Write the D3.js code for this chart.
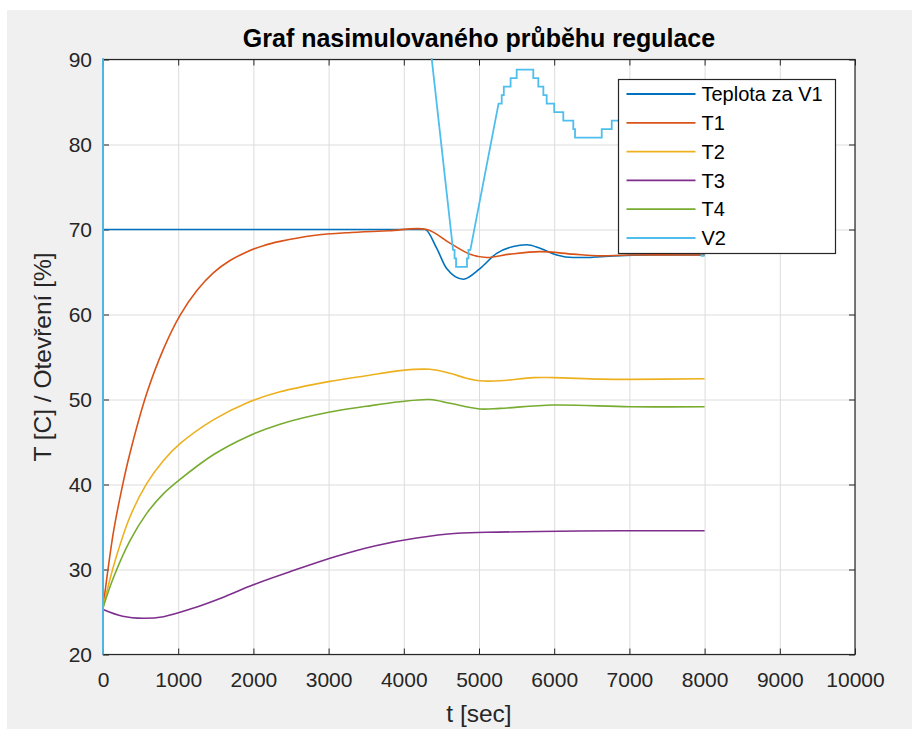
<!DOCTYPE html>
<html>
<head>
<meta charset="utf-8">
<script src="https://cdn.jsdelivr.net/npm/d3@7"></script>
<style>
  html, body { margin: 0; padding: 0; background: #ffffff; }
  svg { display: block; font-family: "Liberation Sans", Arial, Helvetica, sans-serif; }
</style>
</head>
<body>
<div id="chart"></div>
<script>
// x ticks / y ticks
var xTicks = [0, 1000, 2000, 3000, 4000, 5000, 6000, 7000, 8000, 9000, 10000];
var yTicks = [20, 30, 40, 50, 60, 70, 80, 90];

// series names and colours (MATLAB default order)
var seriesNames = ["Teplota za V1", "T1", "T2", "T3", "T4", "V2"];
var seriesColors = ["#0072BD", "#D95319", "#EDB120", "#7E2F8E", "#77AC30", "#4DBEEE"];

// Teplota za V1
var tV1 = [0, 4200, 4282, 4437, 4570, 4791, 5013, 5235, 5456, 5634, 5811, 6033, 6254, 6432, 6609, 6786, 7300, 8000];
var teplotaV1 = [70, 70, 70, 67.8, 65.4, 64.15, 65.4, 67.2, 68.0, 68.2, 67.8, 67.0, 66.7, 66.7, 66.8, 66.9, 67.0, 67.0];

// T1
var tT1 = [0, 137, 248, 359, 581, 802, 1024, 1246, 1467, 1689, 1911, 2132, 2354, 2800, 3300, 3800, 4304, 4614, 4880, 5102, 5412, 5811, 6254, 6609, 7000, 8000];
var T1 = [25.5, 34.3, 39.4, 43.7, 50.7, 55.9, 59.9, 62.8, 64.9, 66.35, 67.35, 68.1, 68.6, 69.3, 69.65, 69.85, 70.0, 68.4, 67.1, 66.7, 67.1, 67.4, 67.1, 66.9, 67.0, 67.0];

// T2
var tT2 = [0, 137, 359, 581, 802, 1024, 1467, 1911, 2354, 3000, 3500, 3949, 4348, 4614, 4836, 5013, 5279, 5722, 5989, 6609, 7008, 8000];
var T2 = [25.5, 30.3, 36.2, 40.1, 42.8, 44.8, 47.6, 49.6, 50.9, 52.1, 52.8, 53.4, 53.55, 53.08, 52.5, 52.2, 52.2, 52.57, 52.57, 52.4, 52.37, 52.45];

// T3
var tT3 = [0, 262, 533, 805, 1184, 1618, 1999, 2541, 3084, 3626, 4169, 4712, 5255, 6069, 6883, 8000];
var T3 = [25.3, 24.5, 24.26, 24.45, 25.4, 26.8, 28.2, 29.9, 31.5, 32.8, 33.7, 34.26, 34.4, 34.5, 34.56, 34.56];

// T4
var tT4 = [0, 137, 359, 581, 802, 1024, 1467, 1911, 2354, 3000, 3500, 3949, 4348, 4614, 5013, 5279, 5989, 7008, 8000];
var T4 = [25.5, 29.0, 33.4, 36.6, 38.9, 40.6, 43.5, 45.6, 47.1, 48.5, 49.2, 49.74, 50.0, 49.55, 48.88, 48.96, 49.35, 49.15, 49.15];

// V2 (stair-stepped valve opening, corners)
var tV2 = [0, 0, 4246, 4655, 4675, 4675, 4695, 4695, 4840, 4840, 4860, 4860, 4885, 5260, 5302, 5302, 5330, 5330, 5420, 5420, 5501, 5501, 5722, 5722, 5789, 5789, 5856, 5856, 5900, 5900, 6000, 6000, 6121, 6121, 6254, 6254, 6277, 6277, 6632, 6632, 6765, 6765, 7100, 7100, 7960, 7960, 8000];
var V2 = [20, 100, 100, 67.6, 67.6, 66.6, 66.6, 65.6, 65.6, 66.6, 66.6, 67.6, 67.6, 84.8, 84.8, 85.8, 85.8, 86.8, 86.8, 87.8, 87.8, 88.8, 88.8, 87.8, 87.8, 86.8, 86.8, 85.8, 85.8, 84.8, 84.8, 83.8, 83.8, 82.8, 82.8, 81.8, 81.8, 80.8, 80.8, 81.8, 81.8, 82.8, 82.8, 83.8, 83.8, 66.9, 66.9];

var W = 912, H = 729;
var margin = {top: 59.5, right: 57, bottom: 74.5, left: 103};
var width = W - margin.left - margin.right,
    height = H - margin.top - margin.bottom;

var svg = d3.select("#chart")
  .append("svg")
  .attr("width", W)
  .attr("height", H);

// figure background
svg.append("rect")
  .attr("x", 7).attr("y", 10)
  .attr("width", W - 7).attr("height", H - 10)
  .attr("fill", "#f0f0f0");

var g = svg.append("g")
  .attr("transform", "translate(" + margin.left + "," + margin.top + ")");

var x = d3.scaleLinear().domain([0, 10000]).range([0, width]);
var y = d3.scaleLinear().domain([20, 90]).range([height, 0]);

// axes background
g.append("rect")
  .attr("width", width).attr("height", height)
  .attr("fill", "#ffffff");

// grid
g.append("g")
  .attr("class", "grid")
  .attr("transform", "translate(0," + height + ")")
  .call(d3.axisBottom(x).tickValues(xTicks).tickSize(-height).tickFormat(""));
g.append("g")
  .attr("class", "grid")
  .call(d3.axisLeft(y).tickValues(yTicks).tickSize(-width).tickFormat(""));
g.selectAll(".grid .domain").remove();
g.selectAll(".grid line").attr("stroke", "#dcdcdc").attr("stroke-width", 1);

// inward ticks on all four sides
g.append("g").attr("class", "tk").attr("transform", "translate(0," + height + ")")
  .call(d3.axisBottom(x).tickValues(xTicks).tickSize(-6).tickFormat(""));
g.append("g").attr("class", "tk")
  .call(d3.axisTop(x).tickValues(xTicks).tickSize(-6).tickFormat(""));
g.append("g").attr("class", "tk")
  .call(d3.axisLeft(y).tickValues(yTicks).tickSize(-6).tickFormat(""));
g.append("g").attr("class", "tk").attr("transform", "translate(" + width + ",0)")
  .call(d3.axisRight(y).tickValues(yTicks).tickSize(-6).tickFormat(""));
g.selectAll(".tk .domain").remove();
g.selectAll(".tk line").attr("stroke", "#262626").attr("stroke-width", 1);

// box
g.append("rect")
  .attr("width", width).attr("height", height)
  .attr("fill", "none")
  .attr("stroke", "#262626")
  .attr("stroke-width", 1.2);

// tick labels
var xl = g.append("g").attr("transform", "translate(0," + height + ")")
  .call(d3.axisBottom(x).tickValues(xTicks).tickSize(0).tickPadding(18).tickFormat(d3.format("d")));
var yl = g.append("g")
  .call(d3.axisLeft(y).tickValues(yTicks).tickSize(0).tickPadding(11).tickFormat(d3.format("d")));
[xl, yl].forEach(function(a) {
  a.select(".domain").remove();
  a.selectAll("text")
    .attr("fill", "#262626")
    .style("font-size", "21px")
    .style("font-family", "'Liberation Sans', Arial, Helvetica, sans-serif");
});

// clip for data
svg.append("defs").append("clipPath").attr("id", "plotclip")
  .append("rect").attr("x", -1.5).attr("y", -1.5)
  .attr("width", width + 3).attr("height", height + 3);

var plot = g.append("g").attr("clip-path", "url(#plotclip)");

function pairs(t, v) {
  return t.map(function(d, i) { return [d, v[i]]; });
}

var mono = d3.line()
  .x(function(d) { return x(d[0]); })
  .y(function(d) { return y(d[1]); })
  .curve(d3.curveMonotoneX);
var smooth = d3.line()
  .x(function(d) { return x(d[0]); })
  .y(function(d) { return y(d[1]); })
  .curve(d3.curveCatmullRom.alpha(0.5));
var straight = d3.line()
  .x(function(d) { return x(d[0]); })
  .y(function(d) { return y(d[1]); });

var lineData = [
  pairs(tV1, teplotaV1),
  pairs(tT1, T1),
  pairs(tT2, T2),
  pairs(tT3, T3),
  pairs(tT4, T4)
];
lineData.forEach(function(d, i) {
  plot.append("path")
    .datum(d)
    .attr("fill", "none")
    .attr("stroke", seriesColors[i])
    .attr("stroke-width", 1.6)
    .attr("stroke-linejoin", "round")
    .attr("d", i == 0 ? mono : smooth);
});
plot.append("path")
  .datum(pairs(tV2, V2))
  .attr("fill", "none")
  .attr("stroke", seriesColors[5])
  .attr("stroke-width", 1.8)
  .attr("d", straight);

// legend
var lg = svg.append("g").attr("transform", "translate(618.5,79.5)");
lg.append("rect")
  .attr("width", 217).attr("height", 174)
  .attr("fill", "#ffffff")
  .attr("stroke", "#262626")
  .attr("stroke-width", 1.2);
seriesNames.forEach(function(name, i) {
  var ry = 14.5 + i * 28.8;
  lg.append("line")
    .attr("x1", 8).attr("x2", 77)
    .attr("y1", ry).attr("y2", ry)
    .attr("stroke", seriesColors[i])
    .attr("stroke-width", 1.8);
  lg.append("text")
    .attr("x", 83).attr("y", ry)
    .attr("dy", "0.36em")
    .attr("fill", "#000")
    .style("font-size", "20px")
    .text(name);
});

// title and axis labels
svg.append("text")
  .attr("x", margin.left + width / 2)
  .attr("y", 47)
  .attr("text-anchor", "middle")
  .attr("fill", "#000")
  .style("font-size", "25px")
  .style("font-weight", "bold")
  .text("Graf nasimulovaného průběhu regulace");

svg.append("text")
  .attr("x", margin.left + width / 2)
  .attr("y", 722)
  .attr("text-anchor", "middle")
  .attr("fill", "#262626")
  .style("font-size", "24.5px")
  .text("t [sec]");

svg.append("text")
  .attr("transform", "translate(51," + (margin.top + height / 2) + ") rotate(-90)")
  .attr("text-anchor", "middle")
  .attr("fill", "#262626")
  .style("font-size", "24.5px")
  .text("T [C] / Otevření [%]");
</script>
</body>
</html>
